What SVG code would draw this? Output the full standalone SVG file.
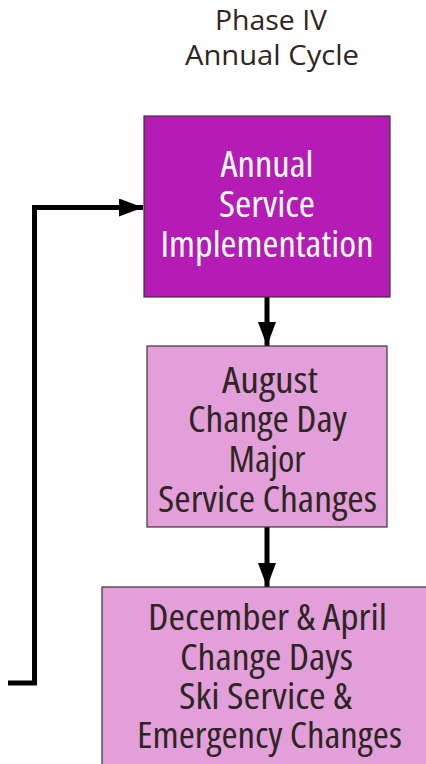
<svg xmlns="http://www.w3.org/2000/svg" width="426" height="764" viewBox="0 0 426 764">
<style>
text{font-family:"Open Sans","Liberation Sans",sans-serif;text-anchor:middle;font-stretch:condensed}
.t{font-size:27px;fill:#2d2622;font-stretch:normal}
.w{font-size:37px;fill:#ffffff}
.d{font-size:37px;fill:#2d2622}
.box{stroke:#3a3434;stroke-width:1.2}
.ln{fill:none;stroke:#000;stroke-width:5}
</style>
<defs>
<marker id="ah" viewBox="0 0 24 18" refX="24" refY="9" markerWidth="24" markerHeight="18" markerUnits="userSpaceOnUse" orient="auto">
<path d="M0,0 L24,9 L0,18 Z" fill="#000"/>
</marker>
</defs>
<g id="title">
<text class="t" x="271" y="30" textLength="112" lengthAdjust="spacingAndGlyphs">Phase IV</text>
<text class="t" x="272" y="65" textLength="174" lengthAdjust="spacingAndGlyphs">Annual Cycle</text>
</g>
<g id="connectors">
<path class="ln" d="M8,683 H34.5 V207.5 H143" marker-end="url(#ah)"/>
<path class="ln" d="M267,297 V346" marker-end="url(#ah)"/>
<path class="ln" d="M267,527 V587" marker-end="url(#ah)"/>
</g>
<g id="node1">
<rect class="box" x="144" y="116" width="246" height="181" fill="#b51cb5"/>
<text class="w" x="267" y="177" textLength="93" lengthAdjust="spacingAndGlyphs">Annual</text>
<text class="w" x="267" y="217" textLength="96" lengthAdjust="spacingAndGlyphs">Service</text>
<text class="w" x="267" y="257" textLength="213" lengthAdjust="spacingAndGlyphs">Implementation</text>
</g>
<g id="node2">
<rect class="box" x="147" y="346" width="240" height="181" fill="#e29fda"/>
<text class="d" x="270" y="393" textLength="96" lengthAdjust="spacingAndGlyphs">August</text>
<text class="d" x="267.5" y="432" textLength="159" lengthAdjust="spacingAndGlyphs">Change Day</text>
<text class="d" x="267" y="472" textLength="77" lengthAdjust="spacingAndGlyphs">Major</text>
<text class="d" x="267.5" y="512" textLength="219" lengthAdjust="spacingAndGlyphs">Service Changes</text>
</g>
<g id="node3">
<rect class="box" x="102" y="587" width="330" height="190" fill="#e29fda"/>
<text class="d" x="267.5" y="630" textLength="239" lengthAdjust="spacingAndGlyphs">December &amp; April</text>
<text class="d" x="266.5" y="670" textLength="173" lengthAdjust="spacingAndGlyphs">Change Days</text>
<text class="d" x="265.5" y="709" textLength="173" lengthAdjust="spacingAndGlyphs">Ski Service &amp;</text>
<text class="d" x="269.5" y="748" textLength="265" lengthAdjust="spacingAndGlyphs">Emergency Changes</text>
</g>
</svg>
